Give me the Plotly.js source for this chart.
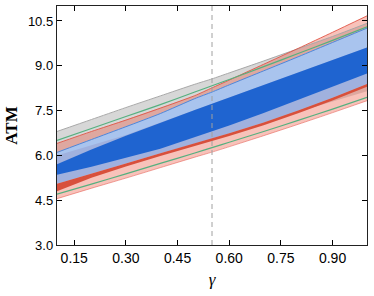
<!DOCTYPE html>
<html>
<head>
<meta charset="utf-8">
<script src="https://cdn.plot.ly/plotly-3.0.1.min.js"></script>
<style>html,body{margin:0;padding:0;background:#fff;}#chart{width:374px;height:296px;}</style>
</head>
<body>
<div id="chart"></div>
<script>
// gamma sample points
var gamma = [0.1, 0.2, 0.3, 0.4, 0.5, 0.55, 0.6, 0.7, 0.8, 0.9, 1.0];
// grey band
var greyTop = [6.8, 7.2, 7.6, 7.99, 8.38, 8.56, 8.76, 9.16, 9.57, 9.98, 10.42];
var greyBot = [5.1, 5.45, 5.78, 6.12, 6.45, 6.6, 6.77, 7.1, 7.45, 7.8, 8.15];
// salmon band
var salmonTop = [6.4, 6.8, 7.18, 7.58, 8.0, 8.26, 8.52, 9.05, 9.58, 10.12, 10.67];
var salmonBot = [4.55, 4.9, 5.24, 5.59, 5.94, 6.11, 6.29, 6.66, 7.04, 7.43, 7.83];
// green bounds
var greenTop = [6.5, 6.9, 7.3, 7.7, 8.12, 8.33, 8.54, 8.97, 9.41, 9.85, 10.3];
var greenBot = [4.7, 5.04, 5.38, 5.73, 6.08, 6.26, 6.44, 6.8, 7.17, 7.55, 7.94];
// light blue band
var lightTop = [6.1, 6.53, 6.96, 7.4, 7.9, 8.12, 8.36, 8.83, 9.3, 9.78, 10.26];
var lightBot = [5.05, 5.4, 5.73, 6.07, 6.4, 6.56, 6.74, 7.1, 7.5, 7.93, 8.39];
// lavender band top (bottom follows lightBot)
var lavTop = [6.0, 6.35, 6.68, 7.1, 7.52, 7.73, 7.94, 8.36, 8.78, 9.2, 9.61];
// dark blue band
var darkTop = [5.7, 6.2, 6.66, 7.1, 7.52, 7.73, 7.94, 8.36, 8.78, 9.2, 9.61];
var darkBot = [5.35, 5.62, 5.92, 6.22, 6.6, 6.8, 7.0, 7.42, 7.85, 8.3, 8.74];
// red band bottom (top follows lightBot)
var redBot = [4.8, 5.25, 5.63, 5.98, 6.31, 6.47, 6.65, 7.01, 7.41, 7.84, 8.3];

var xTicks = [0.15, 0.30, 0.45, 0.60, 0.75, 0.90];
var xTickText = ['0.15', '0.30', '0.45', '0.60', '0.75', '0.90'];
var yTicks = [3.0, 4.5, 6.0, 7.5, 9.0, 10.5];
var yTickText = ['3.0', '4.5', '6.0', '7.5', '9.0', '10.5'];
var markerX = 0.55;

function poly(top, bot, fill) {
  var xs = gamma.concat(gamma.slice().reverse());
  var ys = top.concat(bot.slice().reverse());
  return {x: xs, y: ys, mode: 'lines', fill: 'toself', fillcolor: fill,
          line: {width: 0, color: 'rgba(0,0,0,0)'}, hoverinfo: 'skip'};
}
function line(y, color, w) {
  return {x: gamma, y: y, mode: 'lines', line: {color: color, width: w, shape: 'spline', smoothing: 0.6}, hoverinfo: 'skip'};
}

var traces = [
  poly(greyTop, greyBot, 'rgba(150,150,150,0.38)'),
  poly(salmonTop, salmonBot, 'rgba(235,85,65,0.36)'),
  line(greyTop, '#a8a8a8', 1),
  line(salmonTop, 'rgba(225,80,65,0.85)', 1),
  line(salmonBot, 'rgba(230,100,90,0.6)', 1),
  poly(lightTop, lightBot, '#a9c4ee'),
  poly(lavTop, lightBot, '#a0b1de'),
  poly(darkTop, darkBot, '#1f64d0'),
  line(lightTop, '#4f86d8', 1),
  poly(lightBot, redBot, '#d8503c'),
  line(greenTop, '#55b07f', 1.2),
  line(greenBot, '#55b07f', 1.2)
];

var layout = {
  width: 374, height: 296,
  margin: {l: 57, r: 7, t: 6, b: 51},
  paper_bgcolor: '#fff', plot_bgcolor: '#fff',
  showlegend: false,
  font: {family: 'Liberation Sans, Arial, sans-serif', color: '#000'},
  xaxis: {
    range: [0.1, 1.0], tickvals: xTicks, ticktext: xTickText,
    ticks: 'inside', ticklen: 5, tickcolor: '#000', tickwidth: 1,
    showline: true, linecolor: '#222', linewidth: 1.2, mirror: 'ticks',
    showgrid: false, zeroline: false,
    tickfont: {size: 14, family: 'Liberation Sans, Arial, sans-serif'},
    title: {text: '<i>γ</i>', font: {size: 17, family: 'Liberation Serif, Times New Roman, serif'}, standoff: 8}
  },
  yaxis: {
    range: [3.0, 11.0], tickvals: yTicks, ticktext: yTickText,
    ticks: 'inside', ticklen: 5, tickcolor: '#000', tickwidth: 1,
    showline: true, linecolor: '#222', linewidth: 1.2, mirror: 'ticks',
    showgrid: false, zeroline: false,
    tickfont: {size: 13, family: 'Liberation Sans, Arial, sans-serif'},
    title: {text: '<b>ATM</b>', font: {size: 17, family: 'Liberation Serif, Times New Roman, serif'}, standoff: 6}
  },
  shapes: [{
    type: 'line', xref: 'x', yref: 'paper', x0: markerX, x1: markerX, y0: 0, y1: 1,
    line: {color: '#a0a0a0', width: 1, dash: '5px,4px'}, layer: 'above'
  }]
};

Plotly.newPlot('chart', traces, layout, {staticPlot: true, displayModeBar: false});
</script>
</body>
</html>
